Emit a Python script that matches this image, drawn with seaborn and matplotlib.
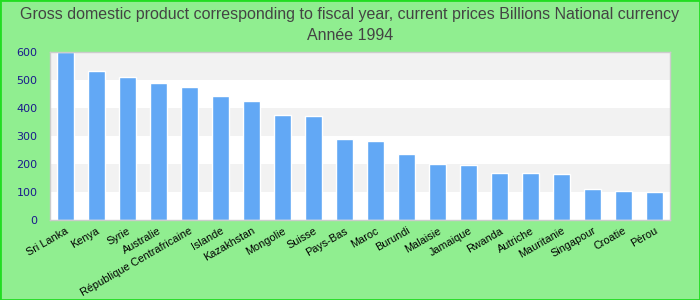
import matplotlib
matplotlib.use("Agg")
import matplotlib.pyplot as plt
import seaborn as sns
import pandas as pd

countries = ["Sri Lanka", "Kenya", "Syrie", "Australie", "République Centrafricaine",
             "Islande", "Kazakhstan", "Mongolie", "Suisse", "Pays-Bas", "Maroc",
             "Burundi", "Malaisie", "Jamaique", "Rwanda", "Autriche", "Mauritanie",
             "Singapour", "Croatie", "Pérou"]
values = [599, 531, 510, 489, 474, 442, 424, 375, 371, 289, 282,
          236, 198, 196, 168, 168, 164, 111, 104, 100]
yticks = [0, 100, 200, 300, 400, 500, 600]

df = pd.DataFrame({"country": countries, "value": values})

sns.set_theme(style="white")
plt.rcParams['font.family'] = ['Liberation Sans', 'DejaVu Sans']

fig = plt.figure(figsize=(7, 3), dpi=100, facecolor="#90ee90")
ax = fig.add_axes([50/700, 1-220/300, 620/700, 168.3/300])
ax.set_facecolor("white")

for lo in [100, 300, 500]:
    ax.axhspan(lo, lo+100, color="#f2f2f2", zorder=0, lw=0)

sns.barplot(data=df, x="country", y="value", color="#62a8f5", width=0.55,
            saturation=1, ax=ax, zorder=2)

ax.set_ylim(0, 600)
ax.set_xlim(-0.5, len(countries)-0.5)
ax.set_yticks(yticks)
ax.set_yticklabels([str(v) for v in yticks], fontsize=8, color="#1a1a8c",
                   family="DejaVu Sans")
ax.tick_params(axis="y", length=0, pad=9)
ax.tick_params(axis="x", length=0, pad=4)
ax.set_xticks(range(len(countries)))
ax.set_xticklabels(countries, rotation=30, ha="right", rotation_mode="anchor",
                   fontsize=7.8, color="black")
ax.set_xlabel("")
ax.set_ylabel("")
for s in ax.spines.values():
    s.set_color("#cccccc")
    s.set_linewidth(1)

fig.text(0.5, 1-14/300, "Gross domestic product corresponding to fiscal year, current prices Billions National currency",
         ha="center", va="center", fontsize=11.5, color="#444444")
fig.text(0.5, 1-36/300, "Année 1994", ha="center", va="center", fontsize=11.5, color="#444444")

border = plt.Rectangle((0, 0), 1, 1, transform=fig.transFigure, fill=False,
                       edgecolor="#22dd22", linewidth=2)
fig.patches.append(border)

fig.savefig("out.png", dpi=100, facecolor=fig.get_facecolor())
